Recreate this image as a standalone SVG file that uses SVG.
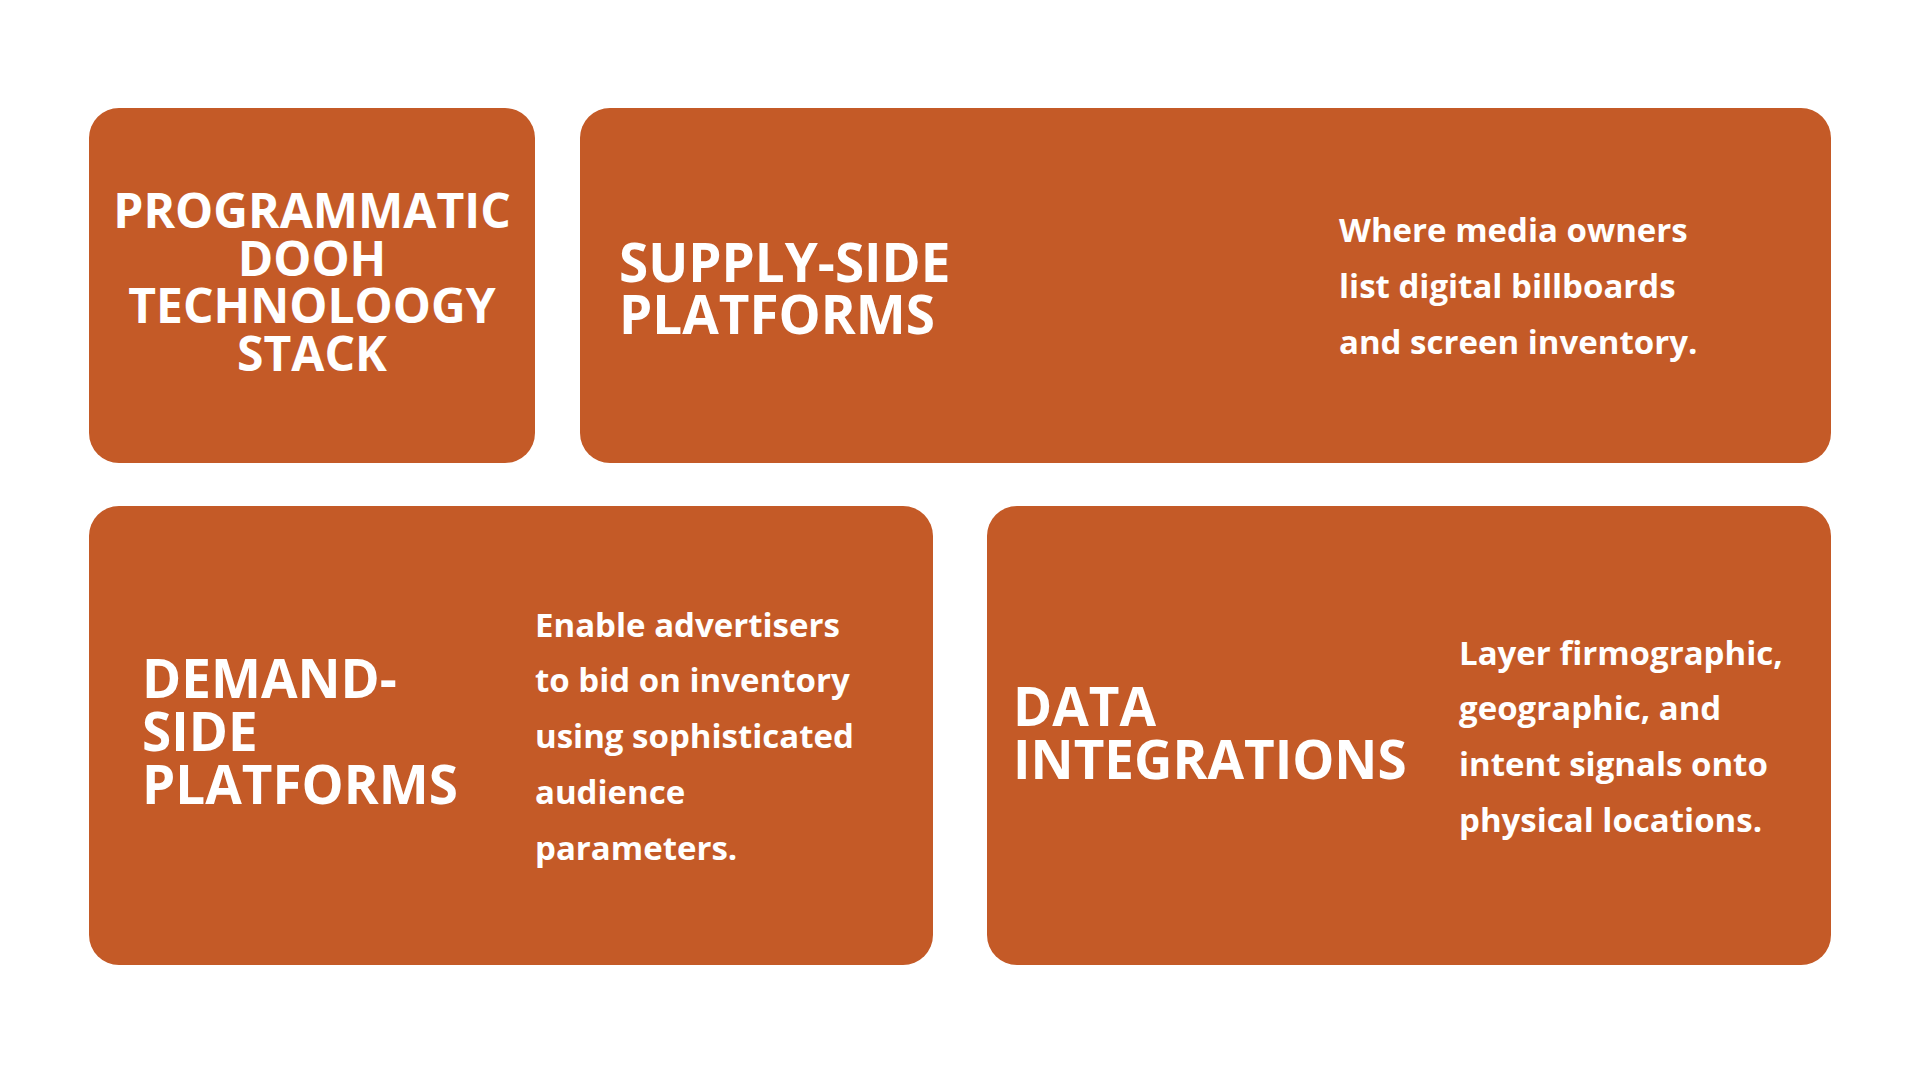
<svg xmlns="http://www.w3.org/2000/svg" width="1920" height="1080" viewBox="0 0 1920 1080">
<style>
.box{fill:#C45A27}
.t{font-family:"Open Sans","Liberation Sans",sans-serif;font-weight:700;fill:#fff}
.h{font-size:53px}
.d{font-size:33px}
.c{font-size:48px;text-anchor:middle}
</style>
<rect width="1920" height="1080" fill="#fff"/>
<g id="stack"><rect class="box" x="89" y="108" width="446" height="355" rx="30"/>
<text class="t c" x="312" y="228">PROGRAMMATIC</text><text class="t c" x="312" y="276">DOOH</text><text class="t c" x="312" y="323">TECHNOLOOGY</text><text class="t c" x="312" y="371">STACK</text></g>
<g id="ssp"><rect class="box" x="580" y="108" width="1251" height="355" rx="30"/>
<text class="t h" x="619" y="282">SUPPLY-SIDE</text><text class="t h" x="619" y="334">PLATFORMS</text>
<text class="t d" x="1339" y="242">Where media owners</text><text class="t d" x="1339" y="298">list digital billboards</text><text class="t d" x="1339" y="354">and screen inventory.</text></g>
<g id="dsp"><rect class="box" x="89" y="506" width="844" height="459" rx="30"/>
<text class="t h" x="142" y="698">DEMAND-</text><text class="t h" x="142" y="751">SIDE</text><text class="t h" x="142" y="804">PLATFORMS</text>
<text class="t d" x="535" y="637">Enable advertisers</text><text class="t d" x="535" y="692">to bid on inventory</text><text class="t d" x="535" y="748">using sophisticated</text><text class="t d" x="535" y="804">audience</text><text class="t d" x="535" y="860">parameters.</text></g>
<g id="data"><rect class="box" x="987" y="506" width="844" height="459" rx="30"/>
<text class="t h" x="1013" y="726">DATA</text><text class="t h" x="1013" y="779">INTEGRATIONS</text>
<text class="t d" x="1459" y="665">Layer firmographic,</text><text class="t d" x="1459" y="720">geographic, and</text><text class="t d" x="1459" y="776">intent signals onto</text><text class="t d" x="1459" y="832">physical locations.</text></g>
<g id="connectors"/>
</svg>
